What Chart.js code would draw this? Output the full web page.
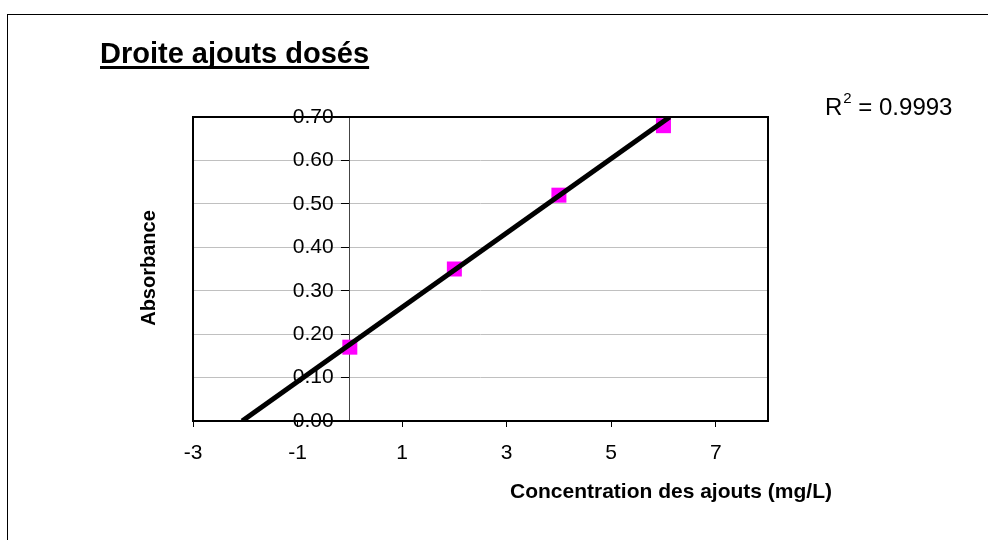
<!DOCTYPE html>
<html>
<head>
<meta charset="utf-8">
<script src="https://cdn.jsdelivr.net/npm/chart.js@4.4.1/dist/chart.umd.min.js"></script>
<style>
  html, body { margin: 0; padding: 0; background: #fff; }
  canvas { display: block; }
</style>
</head>
<body>
<canvas id="chart" width="988" height="540"></canvas>
<script>
// Titles and labels
const CHART_TITLE = 'Droite ajouts dosés';
const X_TITLE = 'Concentration des ajouts (mg/L)';
const Y_TITLE = 'Absorbance';
const R2_VALUE = '0.9993';

// Standard additions: added concentration (mg/L) and measured absorbance
const CONCENTRATIONS = [0, 2, 4, 6];
const ABSORBANCES = [0.17, 0.35, 0.52, 0.68];

// Linear trend line, extended back to the x-axis intercept
const TREND_X = [-2.06, 6.12];
const TREND_Y = [0, 0.70];

// Axis ticks
const X_TICKS = [-3, -1, 1, 3, 5, 7];
const Y_TICKS = [0, 0.1, 0.2, 0.3, 0.4, 0.5, 0.6, 0.7];

const FONT = '"Liberation Sans", Arial, Helvetica, sans-serif';

const points = CONCENTRATIONS.map((x, i) => ({ x, y: ABSORBANCES[i] }));
const trend = TREND_X.map((x, i) => ({ x, y: TREND_Y[i] }));
const yTickList = s => { s.ticks = Y_TICKS.map(v => ({ value: v })); };

// Outer frame, plot frame and free-standing texts
const decorations = {
  id: 'decorations',
  beforeDraw(chart) {
    const ctx = chart.ctx;
    ctx.save();
    ctx.fillStyle = '#fff';
    ctx.fillRect(0, 0, chart.width, chart.height);
    ctx.strokeStyle = '#000';
    ctx.lineWidth = 1;
    ctx.strokeRect(7.5, 14.5, chart.width + 20, chart.height + 20);
    ctx.restore();
  },
  beforeDatasetsDraw(chart) {
    const { ctx, chartArea: a } = chart;
    ctx.save();
    ctx.strokeStyle = '#000';
    ctx.lineWidth = 2;
    ctx.strokeRect(a.left, a.top, a.right - a.left, a.bottom - a.top);
    ctx.restore();
  },
  afterDraw(chart) {
    const ctx = chart.ctx;
    ctx.save();
    ctx.fillStyle = '#000';
    ctx.textBaseline = 'alphabetic';

    // Chart title, underlined
    ctx.font = `bold 29px ${FONT}`;
    ctx.textAlign = 'left';
    ctx.fillText(CHART_TITLE, 100, 63);
    const tw = ctx.measureText(CHART_TITLE).width;
    ctx.fillRect(100, 66, tw, 3);

    // Coefficient of determination
    ctx.font = `24px ${FONT}`;
    let x = 825;
    ctx.fillText('R', x, 115);
    x += ctx.measureText('R').width + 1;
    ctx.font = `15px ${FONT}`;
    ctx.fillText('2', x, 103);
    x += ctx.measureText('2').width;
    ctx.font = `24px ${FONT}`;
    ctx.fillText(' = ' + R2_VALUE, x, 115);

    // Axis titles
    ctx.font = `bold 21px ${FONT}`;
    ctx.textAlign = 'center';
    ctx.fillText(X_TITLE, 671, 498);

    ctx.font = `bold 20px ${FONT}`;
    ctx.translate(149, 268);
    ctx.rotate(-Math.PI / 2);
    ctx.textBaseline = 'middle';
    ctx.fillText(Y_TITLE, 0, 0);
    ctx.restore();
  }
};

new Chart(document.getElementById('chart'), {
  type: 'scatter',
  data: {
    datasets: [
      {
        label: 'Droite',
        data: trend,
        showLine: true,
        borderColor: '#000',
        borderWidth: 5,
        pointRadius: 0,
        fill: false,
        order: 0,
        clip: 0
      },
      {
        label: 'Absorbance',
        data: points,
        pointStyle: 'rect',
        pointRadius: 10.6,
        backgroundColor: '#ff00ff',
        borderColor: '#ff00ff',
        borderWidth: 0,
        showLine: false,
        order: 1,
        clip: false
      }
    ]
  },
  options: {
    responsive: false,
    animation: false,
    devicePixelRatio: 1,
    layout: { padding: { left: 193, right: 220, top: 117, bottom: 69 } },
    plugins: {
      legend: { display: false },
      tooltip: { enabled: false },
      title: { display: false }
    },
    scales: {
      x: {
        type: 'linear',
        position: 'bottom',
        min: -3,
        max: 8,
        afterBuildTicks: s => { s.ticks = X_TICKS.map(v => ({ value: v })); },
        afterFit: s => { s.height = 50; },
        ticks: {
          color: '#000',
          font: { family: FONT, size: 21 },
          padding: 14,
          maxRotation: 0,
          autoSkip: false,
          callback: v => String(v)
        },
        grid: {
          drawOnChartArea: false,
          drawTicks: true,
          tickLength: 6,
          tickColor: '#000',
          color: '#000'
        },
        border: { display: true, color: '#000', width: 2 }
      },
      // Vertical axis crossing at x = 0: gridlines, tick marks and axis line
      y: {
        type: 'linear',
        position: { x: 0 },
        min: 0,
        max: 0.7,
        afterBuildTicks: yTickList,
        ticks: { display: false },
        grid: {
          color: '#c0c0c0',
          lineWidth: 1,
          drawTicks: true,
          tickLength: 8,
          tickColor: '#000'
        },
        border: { display: true, color: '#444', width: 1 }
      },
      // Tick labels of the same axis, set just left of its tick marks
      yLabels: {
        type: 'linear',
        axis: 'y',
        position: { x: -0.31 },
        min: 0,
        max: 0.7,
        afterBuildTicks: yTickList,
        ticks: {
          color: '#000',
          font: { family: FONT, size: 21 },
          autoSkip: false,
          callback: v => Number(v).toFixed(2)
        },
        grid: { display: false, drawTicks: false },
        border: { display: false }
      }
    }
  },
  plugins: [decorations]
});
</script>
</body>
</html>
